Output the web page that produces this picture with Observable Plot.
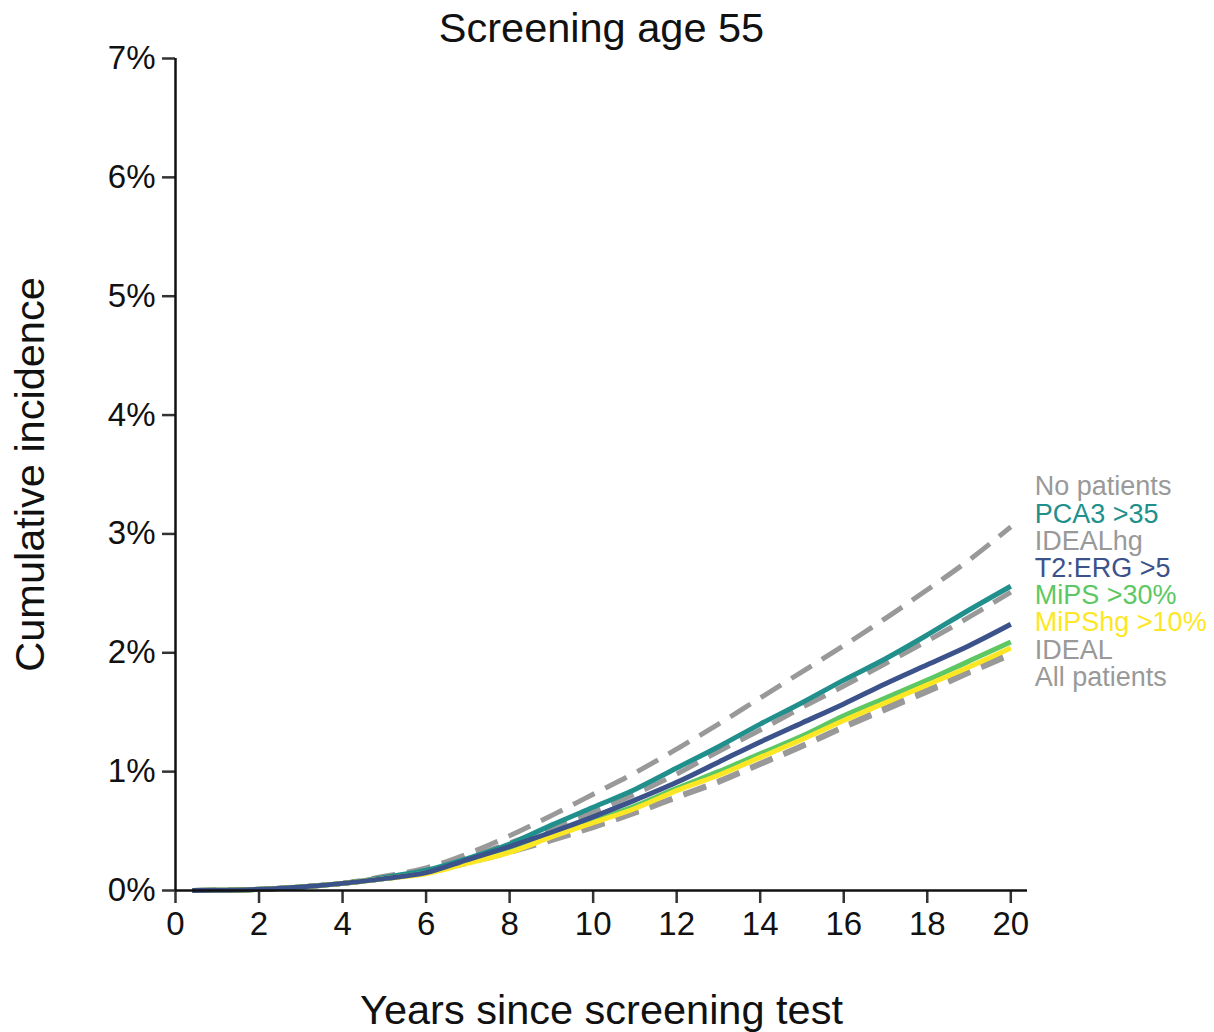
<!DOCTYPE html>
<html><head><meta charset="utf-8">
<script src="https://cdn.jsdelivr.net/npm/d3@7"></script>
<script src="https://cdn.jsdelivr.net/npm/@observablehq/plot@0.6"></script>
<style>body{margin:0;background:#fff} svg{display:block}</style>
</head><body><div id="chart"></div>
<script>
// ---------- data ----------
const title = "Screening age 55";
const xLabel = "Years since screening test";
const yLabel = "Cumulative incidence";
const xTicks = [0, 2, 4, 6, 8, 10, 12, 14, 16, 18, 20];
const yTicks = [0, 1, 2, 3, 4, 5, 6, 7];
const years = [0.4, 1, 2, 3, 4, 5, 6, 7, 8, 9, 10, 11, 12, 13, 14, 15, 16, 17, 18, 19, 20];
const seriesNames = ["No patients", "PCA3 >35", "IDEALhg", "T2:ERG >5", "MiPS >30%", "MiPShg >10%", "IDEAL", "All patients"];
const noPatients  = [0, 0.002, 0.01, 0.03, 0.06, 0.12, 0.19, 0.31, 0.46, 0.63, 0.81, 0.99, 1.19, 1.40, 1.62, 1.84, 2.06, 2.29, 2.53, 2.78, 3.06];
const pca3        = [0, 0.002, 0.01, 0.03, 0.06, 0.11, 0.17, 0.27, 0.39, 0.55, 0.70, 0.85, 1.03, 1.21, 1.40, 1.58, 1.77, 1.95, 2.15, 2.36, 2.56];
const idealHg     = [0, 0.002, 0.01, 0.03, 0.06, 0.11, 0.18, 0.28, 0.40, 0.53, 0.66, 0.81, 0.98, 1.17, 1.35, 1.54, 1.72, 1.91, 2.10, 2.30, 2.51];
const t2erg       = [0, 0.002, 0.01, 0.03, 0.06, 0.10, 0.15, 0.26, 0.37, 0.49, 0.62, 0.76, 0.91, 1.08, 1.25, 1.41, 1.57, 1.74, 1.90, 2.06, 2.24];
const mips        = [0, 0.002, 0.01, 0.03, 0.06, 0.10, 0.15, 0.24, 0.34, 0.46, 0.58, 0.71, 0.86, 1.00, 1.15, 1.30, 1.47, 1.62, 1.77, 1.93, 2.09];
const mipsHg      = [0, 0.002, 0.01, 0.03, 0.06, 0.10, 0.14, 0.23, 0.32, 0.45, 0.57, 0.69, 0.84, 0.97, 1.12, 1.27, 1.43, 1.58, 1.73, 1.88, 2.04];
const ideal       = [0, 0.002, 0.01, 0.03, 0.06, 0.10, 0.16, 0.24, 0.33, 0.43, 0.54, 0.66, 0.79, 0.92, 1.07, 1.22, 1.38, 1.54, 1.69, 1.85, 2.00];
const allPatients = [0, 0.002, 0.01, 0.03, 0.06, 0.10, 0.15, 0.23, 0.32, 0.42, 0.53, 0.65, 0.78, 0.91, 1.06, 1.21, 1.37, 1.52, 1.67, 1.83, 1.98];
const seriesValues = [noPatients, pca3, idealHg, t2erg, mips, mipsHg, ideal, allPatients];

// ---------- styling ----------
const GREY = "#999999";
const styleOf = {
  "No patients":  {color: GREY, dashed: true},
  "PCA3 >35":     {color: "#21908C", dashed: false},
  "IDEALhg":      {color: GREY, dashed: true},
  "T2:ERG >5":    {color: "#3B528B", dashed: false},
  "MiPS >30%":    {color: "#5DC863", dashed: false},
  "MiPShg >10%":  {color: "#FDE725", dashed: false},
  "IDEAL":        {color: GREY, dashed: true},
  "All patients": {color: GREY, dashed: true}
};
const drawOrder = ["No patients", "IDEALhg", "IDEAL", "All patients", "PCA3 >35", "MiPS >30%", "MiPShg >10%", "T2:ERG >5"];

const rows = [];
seriesNames.forEach((s, i) => years.forEach((yr, j) => rows.push({series: s, year: yr, value: seriesValues[i][j]})));
const dashedRows = rows.filter(d => styleOf[d.series].dashed);
const solidRows = drawOrder.filter(s => !styleOf[s].dashed).flatMap(s => rows.filter(d => d.series === s));

// end labels, spread vertically so they don't overlap
const lastYear = years[years.length - 1];
const ends = seriesNames.map((s, i) => ({series: s, end: seriesValues[i][years.length - 1]}))
  .sort((a, b) => b.end - a.end);
const gap = 0.229;
const mid = (ends[0].end + ends[ends.length - 1].end) / 2;
ends.forEach((d, i) => { d.labelY = mid + ((ends.length - 1) / 2 - i) * gap; d.x = lastYear; });

const FONT = "'Liberation Sans', Arial, sans-serif";

const chart = Plot.plot({
  width: 1214,
  height: 1032,
  marginLeft: 175,
  marginRight: 187,
  marginTop: 58,
  marginBottom: 142,
  style: {fontFamily: FONT, background: "#fff", color: "#000"},
  x: {domain: [0, 20.4]},
  y: {domain: [0, 7]},
  color: {type: "identity"},
  marks: [
    Plot.axisX({ticks: xTicks, tickSize: 13, tickPadding: 8, fontSize: 33, stroke: "#333", strokeWidth: 2.5, fill: "#111", label: null}),
    Plot.axisY({ticks: yTicks, tickSize: 13, tickPadding: 7, fontSize: 33, stroke: "#333", strokeWidth: 2.5, fill: "#111", label: null, tickFormat: d => d + "%"}),
    Plot.line(dashedRows, {x: "year", y: "value", z: "series", stroke: d => styleOf[d.series].color,
      strokeWidth: 5, strokeDasharray: "24,12", curve: "monotone-x", strokeLinecap: "butt"}),
    Plot.line(solidRows, {x: "year", y: "value", z: "series", stroke: d => styleOf[d.series].color,
      strokeWidth: 5, curve: "monotone-x", strokeLinecap: "butt"}),
    Plot.ruleX([0], {stroke: "#111", strokeWidth: 2.5}),
    Plot.ruleY([0], {stroke: "#111", strokeWidth: 2.5}),
    Plot.text(ends, {x: "x", y: "labelY", text: "series", fill: d => styleOf[d.series].color,
      textAnchor: "start", dx: 24, dy: -9, fontSize: 27, lineAnchor: "middle"}),
    Plot.text([title], {frameAnchor: "top", dy: -30, fontSize: 41.5, fill: "#111", lineAnchor: "middle"}),
    Plot.text([xLabel], {frameAnchor: "bottom", dy: 120, fontSize: 41.5, fill: "#111", lineAnchor: "middle"}),
    Plot.text([yLabel], {frameAnchor: "left", dx: -145, rotate: -90, fontSize: 41.5, fill: "#111", lineAnchor: "middle", textAnchor: "middle"})
  ]
});
document.getElementById("chart").appendChild(chart);
</script>
</body></html>
